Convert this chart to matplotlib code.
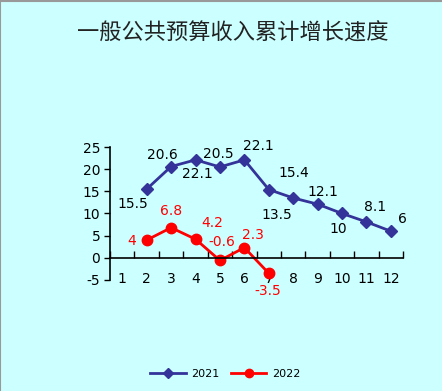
import matplotlib
matplotlib.use('Agg')
import matplotlib.pyplot as plt
from matplotlib.lines import Line2D

plt.rcParams['font.family'] = ['DejaVu Sans', 'Noto Sans CJK SC']
plt.rcParams['axes.unicode_minus'] = False

months = [1, 2, 3, 4, 5, 6, 7, 8, 9, 10, 11, 12]
x2021 = [2, 3, 4, 5, 6, 7, 8, 9, 10, 11, 12]
y2021 = [15.5, 20.6, 22.1, 20.5, 22.1, 15.4, 13.5, 12.1, 10, 8.1, 6]
x2022 = [2, 3, 4, 5, 6, 7]
y2022 = [4, 6.8, 4.2, -0.6, 2.3, -3.5]

# label offsets in points
off2021 = [(-10, -11), (-6, 8), (1, -10), (-1, 9), (10, 10), (18, 12),
           (-12, -12), (4, 9), (-3, -11), (6, 11), (8, 9)]
off2022 = [(-11, -1), (0, 12), (12, 12), (1, 13), (6, 9), (-1, -13)]

bg = '#CCFFFF'
blue = '#333399'
red = '#FF0000'

fig = plt.figure(figsize=(4.42, 3.91), dpi=100)
fig.patch.set_facecolor(bg)
ax = fig.add_axes([0.249, 0.284, 0.663, 0.340])
ax.set_facecolor(bg)

ax.plot(x2021, y2021, color=blue, lw=2, marker='D', ms=6.5, mfc=blue, mec=blue, label='2021')
ax.plot(x2022, y2022, color=red, lw=2, marker='o', ms=7.5, mfc=red, mec=red, label='2022')

for x, y, o in zip(x2021, y2021, off2021):
    ax.annotate(f'{y:g}', (x, y), xytext=o, textcoords='offset points',
                ha='center', va='center', fontsize=10, color='black')
for x, y, o in zip(x2022, y2022, off2022):
    ax.annotate(f'{y:g}', (x, y), xytext=o, textcoords='offset points',
                ha='center', va='center', fontsize=10, color=red)

ax.set_xlim(0.5, 12.5)
ax.set_ylim(-5, 25)
ax.set_yticks([-5, 0, 5, 10, 15, 20, 25])
ax.tick_params(axis='y', direction='out', length=4, width=1, labelsize=10, pad=3)

for s in ['top', 'right']:
    ax.spines[s].set_visible(False)
ax.spines['left'].set_linewidth(1.2)
ax.spines['bottom'].set_position(('data', 0))
ax.spines['bottom'].set_linewidth(1.2)

ax.set_xticks([m + 0.5 for m in [0] + months])
ax.set_xticklabels([])
ax.tick_params(axis='x', which='major', direction='in', length=5, width=1)
ax.set_xticks(months, minor=True)
ax.set_xticklabels([str(m) for m in months], minor=True)
ax.tick_params(axis='x', which='minor', length=0, labelsize=10, pad=10)

fig.text(0.527, 0.915, '一般公共预算收入累计增长速度', ha='center', va='center',
         fontsize=16, family=['Noto Sans CJK SC'], color='#222222')

fig.legend(loc='center', bbox_to_anchor=(0.51, 0.043), ncol=2, frameon=False,
           fontsize=8, handlelength=3.2, columnspacing=1.0, handletextpad=0.5,
           markerscale=0.8)

fig.add_artist(Line2D([0, 1], [0.998, 0.998], color='#999999', lw=1.5, transform=fig.transFigure))
fig.add_artist(Line2D([0.001, 0.001], [0, 1], color='#999999', lw=1.5, transform=fig.transFigure))

fig.savefig('out.png', dpi=100, facecolor=bg)
